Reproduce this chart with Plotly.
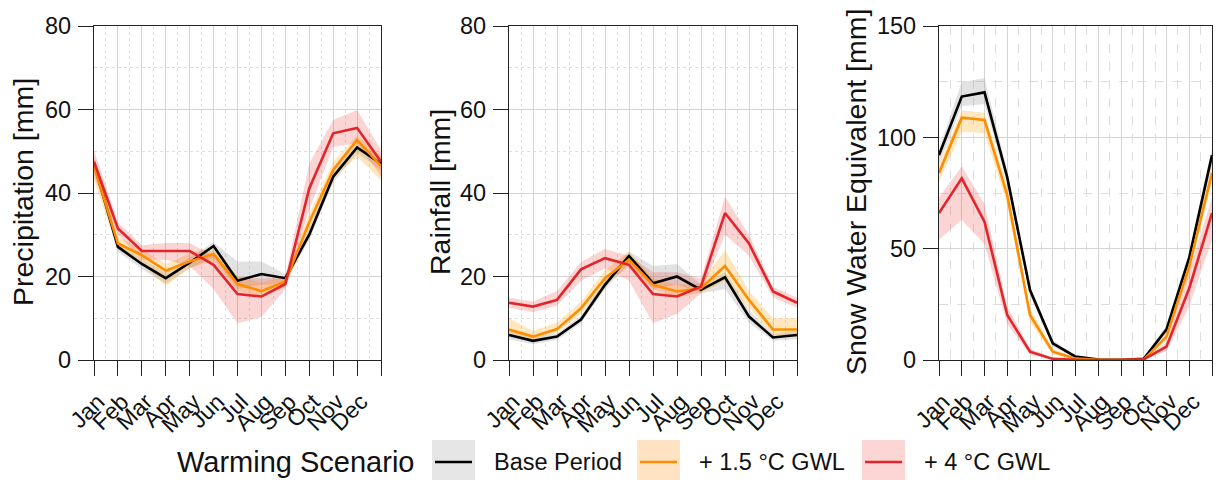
import plotly.graph_objects as go

# ---------------- data ----------------
months = ["Jan", "Feb", "Mar", "Apr", "May", "Jun", "Jul", "Aug", "Sep", "Oct", "Nov", "Dec", "Jan"]
month_labels = ["Jan", "Feb", "Mar", "Apr", "May", "Jun", "Jul", "Aug", "Sep", "Oct", "Nov", "Dec", ""]
x_pos = list(range(13))

# Precipitation [mm]
pr_base = [47.0, 27.1, 23.0, 19.6, 23.3, 27.3, 19.0, 20.6, 19.6, 30.0, 43.9, 50.9, 47.0]
pr_base_lo = [45.5, 26.0, 21.8, 18.2, 22.0, 24.5, 17.0, 18.0, 18.5, 28.8, 42.5, 49.5, 45.5]
pr_base_hi = [48.5, 28.2, 24.2, 21.0, 24.6, 28.2, 23.6, 23.6, 20.6, 31.5, 45.3, 52.3, 48.5]
pr_15 = [46.5, 27.9, 25.1, 21.4, 23.6, 25.4, 18.2, 16.5, 18.8, 33.0, 45.5, 52.7, 46.5]
pr_15_lo = [43.0, 26.5, 23.0, 17.8, 22.0, 23.8, 16.5, 15.0, 17.5, 31.0, 43.5, 48.7, 43.0]
pr_15_hi = [49.0, 29.5, 26.5, 23.0, 25.5, 27.0, 20.0, 18.5, 20.0, 35.0, 47.5, 53.8, 49.0]
pr_4 = [47.5, 31.5, 26.1, 26.1, 26.1, 22.8, 15.8, 15.2, 18.2, 41.1, 54.3, 55.6, 47.5]
pr_4_lo = [44.0, 30.0, 24.0, 24.0, 22.5, 17.0, 8.8, 10.3, 17.0, 36.0, 51.0, 52.0, 44.0]
pr_4_hi = [50.3, 33.0, 27.5, 28.0, 28.0, 25.0, 20.0, 19.5, 20.0, 47.0, 57.5, 59.9, 50.3]

# Rainfall [mm]
ra_base = [6.0, 4.6, 5.6, 9.7, 18.0, 24.9, 18.4, 20.0, 16.8, 19.8, 10.4, 5.4, 6.0]
ra_base_lo = [5.0, 3.8, 4.8, 8.8, 17.0, 23.0, 17.0, 18.0, 16.0, 17.0, 9.0, 4.6, 5.0]
ra_base_hi = [7.0, 5.4, 6.4, 10.6, 19.0, 26.0, 22.5, 23.0, 18.0, 21.0, 12.0, 6.2, 7.0]
ra_15 = [7.3, 5.6, 7.4, 12.4, 19.6, 24.0, 18.0, 16.4, 17.2, 22.5, 14.4, 7.3, 7.3]
ra_15_lo = [5.5, 4.8, 6.5, 11.0, 18.0, 22.5, 17.0, 15.0, 16.0, 19.0, 12.5, 6.0, 5.5]
ra_15_hi = [10.0, 7.0, 9.0, 14.0, 21.5, 26.0, 19.5, 18.0, 18.5, 26.3, 16.5, 10.0, 10.0]
ra_4 = [13.7, 12.8, 14.4, 21.7, 24.4, 22.8, 15.8, 15.2, 17.6, 35.2, 27.9, 16.4, 13.7]
ra_4_lo = [12.5, 11.5, 13.0, 19.0, 22.0, 19.0, 8.8, 11.0, 16.0, 30.0, 25.0, 15.0, 12.5]
ra_4_hi = [15.0, 14.0, 16.5, 23.5, 26.6, 25.0, 21.0, 21.0, 19.5, 39.1, 30.0, 17.5, 15.0]

# Snow Water Equivalent [mm]
sw_base = [92.0, 118.3, 120.2, 82.0, 31.4, 7.5, 1.5, 0.2, 0.1, 0.5, 13.8, 46.0, 92.0]
sw_base_lo = [88.0, 114.0, 115.0, 79.0, 29.0, 6.0, 1.0, 0.0, 0.0, 0.2, 12.0, 43.0, 88.0]
sw_base_hi = [95.0, 124.7, 126.7, 85.0, 33.5, 9.0, 2.0, 0.4, 0.2, 0.8, 15.5, 49.0, 95.0]
sw_15 = [84.0, 108.8, 107.8, 74.0, 20.2, 3.7, 0.6, 0.1, 0.1, 0.1, 10.5, 42.0, 84.0]
sw_15_lo = [80.0, 102.5, 101.8, 70.0, 17.0, 2.5, 0.3, 0.0, 0.0, 0.0, 9.0, 39.0, 80.0]
sw_15_hi = [88.0, 112.0, 111.0, 78.0, 23.0, 5.0, 1.0, 0.2, 0.2, 0.3, 12.0, 45.0, 88.0]
sw_4 = [66.0, 81.6, 62.1, 20.2, 3.7, 0.5, 0.1, 0.0, 0.0, 0.3, 6.0, 32.2, 66.0]
sw_4_lo = [54.0, 63.0, 52.0, 16.0, 2.5, 0.0, 0.0, 0.0, 0.0, 0.0, 4.0, 24.0, 54.0]
sw_4_hi = [73.0, 87.0, 70.0, 24.0, 5.0, 1.0, 0.3, 0.1, 0.1, 0.6, 8.0, 40.0, 73.0]

scenarios = ["Base Period", "+ 1.5 °C GWL", "+ 4 °C GWL"]
line_colors = ["#000000", "#FF8C00", "#E3242B"]
band_colors = ["rgba(150,150,150,0.28)", "rgba(255,165,0,0.25)", "rgba(238,60,60,0.22)"]
key_colors = ["#E6E6E6", "#FFE3C2", "#FCD5D5"]

panels = [
    ("Precipitation [mm]", [(pr_base, pr_base_lo, pr_base_hi), (pr_15, pr_15_lo, pr_15_hi), (pr_4, pr_4_lo, pr_4_hi)], 80, 20, 10, "dot"),
    ("Rainfall [mm]", [(ra_base, ra_base_lo, ra_base_hi), (ra_15, ra_15_lo, ra_15_hi), (ra_4, ra_4_lo, ra_4_hi)], 80, 20, 10, "dot"),
    ("Snow Water Equivalent [mm]", [(sw_base, sw_base_lo, sw_base_hi), (sw_15, sw_15_lo, sw_15_hi), (sw_4, sw_4_lo, sw_4_hi)], 150, 50, 25, "dash"),
]

W, H = 1225, 480
x_domains = [(94 / W, 381 / W), (509 / W, 797 / W), (939 / W, 1212 / W)]
y_domain = (1 - 360 / H, 1 - 26 / H)
title_x = [23, 440, 856]

FONT = "Liberation Sans, Arial, Helvetica, sans-serif"

fig = go.Figure()

for p, (title, series, ymax, ydt, yminor, mdash) in enumerate(panels):
    xa = "x" if p == 0 else f"x{p + 1}"
    ya = "y" if p == 0 else f"y{p + 1}"
    # bands
    for s, (mean, lo, hi) in enumerate(series):
        fig.add_trace(go.Scatter(
            x=x_pos + x_pos[::-1], y=hi + lo[::-1], fill="toself",
            fillcolor=band_colors[s], line=dict(width=0), mode="lines",
            hoverinfo="skip", showlegend=False, xaxis=xa, yaxis=ya))
    # lines
    for s, (mean, lo, hi) in enumerate(series):
        fig.add_trace(go.Scatter(
            x=x_pos, y=mean, mode="lines", name=scenarios[s],
            line=dict(color=line_colors[s], width=2.6),
            showlegend=False, xaxis=xa, yaxis=ya))

    suffix = "" if p == 0 else str(p + 1)
    fig.layout["xaxis" + suffix] = dict(
        domain=x_domains[p], anchor=ya, range=[0, 12],
        tickmode="array", tickvals=x_pos, ticktext=month_labels, tickangle=-45,
        ticks="outside", ticklen=15, tickwidth=1.3, tickcolor="#222",
        showline=True, mirror=True, linecolor="#222", linewidth=1.3,
        showgrid=True, gridcolor="#D4D4D4", gridwidth=1,
        minor=dict(dtick=0.5, tick0=0, showgrid=True, gridcolor="#DEDEDE",
                   griddash=mdash, gridwidth=1, ticklen=0),
        zeroline=False, tickfont=dict(family=FONT, size=23, color="#111"),
        ticklabelshift=4, ticklabelstandoff=3,
        automargin=False, fixedrange=True)
    fig.layout["yaxis" + suffix] = dict(
        domain=y_domain, anchor=xa, range=[0, ymax],
        tickmode="linear", tick0=0, dtick=ydt,
        ticks="outside", ticklen=15, tickwidth=1.3, tickcolor="#222",
        showline=True, mirror=True, linecolor="#222", linewidth=1.3,
        showgrid=True, gridcolor="#D4D4D4", gridwidth=1,
        minor=dict(dtick=yminor, tick0=0, showgrid=True, gridcolor="#DEDEDE",
                   griddash=mdash, gridwidth=1, ticklen=0),
        zeroline=False, tickfont=dict(family=FONT, size=23.5, color="#111"),
        ticklabelstandoff=2, automargin=False, fixedrange=True)
    fig.add_annotation(
        text=title, textangle=-90, x=title_x[p] / W, y=1 - 192 / H,
        xref="paper", yref="paper", xanchor="center", yanchor="middle",
        showarrow=False, font=dict(family=FONT, size=28.5, color="#111"))

# ---------------- manual legend ----------------
leg_y = 1 - 462 / H
fig.add_annotation(text="Warming Scenario", x=175 / W, y=leg_y, xref="paper", yref="paper",
                   xanchor="left", yanchor="middle", showarrow=False,
                   font=dict(family=FONT, size=29, color="#111"))
box_x = [432, 637, 862]
lab_x = [492, 697, 922]
for s in range(3):
    fig.add_shape(type="rect", xref="paper", yref="paper",
                  x0=box_x[s] / W, x1=(box_x[s] + 43) / W, y0=0, y1=1 - 440 / H,
                  fillcolor=key_colors[s], line=dict(width=0), layer="below")
    fig.add_shape(type="line", xref="paper", yref="paper",
                  x0=(box_x[s] + 3) / W, x1=(box_x[s] + 40) / W, y0=leg_y, y1=leg_y,
                  line=dict(color=line_colors[s], width=2.6))
    fig.add_annotation(text=scenarios[s], x=lab_x[s] / W, y=leg_y, xref="paper", yref="paper",
                       xanchor="left", yanchor="middle", showarrow=False,
                       font=dict(family=FONT, size=23.5, color="#111"))

fig.update_layout(
    width=W, height=H, margin=dict(l=0, r=0, t=0, b=0, autoexpand=False),
    paper_bgcolor="white", plot_bgcolor="white", showlegend=False,
    font=dict(family=FONT, color="#111"))

fig.write_html("out.html", config={"displayModeBar": False},
               post_script="document.body.style.margin='0px';")
